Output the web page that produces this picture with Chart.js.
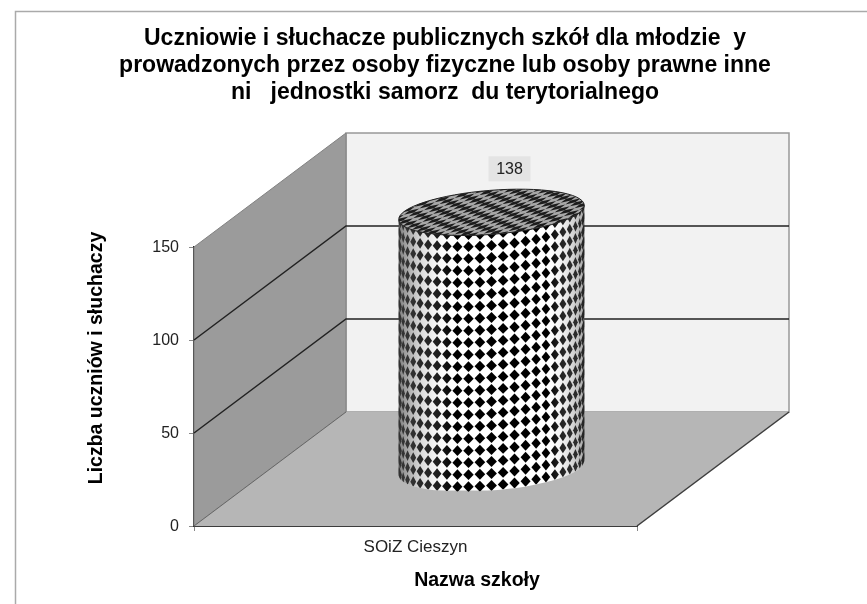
<!DOCTYPE html>
<html>
<head>
<meta charset="utf-8">
<style>
  html, body { margin: 0; padding: 0; background: #fff; }
  #wrap { width: 867px; height: 604px; }
</style>
<script src="https://cdn.jsdelivr.net/npm/chart.js@4"></script>
</head>
<body>
<div id="wrap"><canvas id="schoolChart" width="867" height="604"></canvas></div>
<script>
const titleLines = [
    'Uczniowie i słuchacze publicznych szkół dla młodzie  y',
    'prowadzonych przez osoby fizyczne lub osoby prawne inne',
    'ni   jednostki samorz  du terytorialnego'
];
const categories = ['SOiZ Cieszyn'];
const pupils = [138];
const yTicks = [0, 50, 100, 150];
const xAxisTitle = 'Nazwa szkoły';
const yAxisTitle = 'Liczba uczniów i słuchaczy';

// depth of the fake 3d box
const depthX = 152;
const depthY = -114;

const font = '"Liberation Sans", Arial, sans-serif';

// walls, floor and gridlines, behind the bar
const wallsPlugin = {
    id: 'walls',
    beforeDatasetsDraw(chart) {
        const { ctx, chartArea: a, scales: { y } } = chart;
        const l = a.left, r = a.right;
        const top = y.getPixelForValue(yTicks[yTicks.length - 1]);
        const bot = y.getPixelForValue(0);
        ctx.save();

        // frame of the picture
        ctx.strokeStyle = '#aaaaaa';
        ctx.lineWidth = 1.5;
        ctx.beginPath();
        ctx.moveTo(15.5, 604);
        ctx.lineTo(15.5, 11.5);
        ctx.lineTo(867, 11.5);
        ctx.stroke();

        // back wall
        ctx.fillStyle = '#f2f2f2';
        ctx.fillRect(l + depthX, top + depthY, r - l, bot - top);
        ctx.strokeStyle = '#999999';
        ctx.lineWidth = 1.5;
        ctx.strokeRect(l + depthX, top + depthY, r - l, bot - top);

        // left wall
        ctx.fillStyle = '#9b9b9b';
        ctx.beginPath();
        ctx.moveTo(l, bot);
        ctx.lineTo(l, top);
        ctx.lineTo(l + depthX, top + depthY);
        ctx.lineTo(l + depthX, bot + depthY);
        ctx.closePath();
        ctx.fill();
        ctx.strokeStyle = '#808080';
        ctx.lineWidth = 1;
        ctx.stroke();

        // floor
        ctx.fillStyle = '#b6b6b6';
        ctx.beginPath();
        ctx.moveTo(l, bot);
        ctx.lineTo(r, bot);
        ctx.lineTo(r + depthX, bot + depthY);
        ctx.lineTo(l + depthX, bot + depthY);
        ctx.closePath();
        ctx.fill();

        ctx.strokeStyle = '#666666';
        ctx.lineWidth = 1;
        ctx.beginPath();
        ctx.moveTo(l, bot);
        ctx.lineTo(l + depthX, bot + depthY);
        ctx.stroke();
        ctx.strokeStyle = '#3c3c3c';
        ctx.lineWidth = 1.5;
        ctx.beginPath();
        ctx.moveTo(r, bot);
        ctx.lineTo(r + depthX, bot + depthY);
        ctx.stroke();

        // gridlines run along the left wall and the back wall
        ctx.strokeStyle = '#222222';
        ctx.lineWidth = 1.5;
        yTicks.slice(1, -1).forEach(v => {
            const py = y.getPixelForValue(v);
            ctx.beginPath();
            ctx.moveTo(l, py);
            ctx.lineTo(l + depthX, py + depthY);
            ctx.lineTo(r + depthX, py + depthY);
            ctx.stroke();
        });
        ctx.restore();
    }
};

// draws the bar element as a checkered cylinder
const cylinderPlugin = {
    id: 'cylinder',
    afterDatasetsDraw(chart) {
        const { ctx } = chart;
        chart.getDatasetMeta(0).data.forEach((bar, i) => {
            const cx = bar.x + depthX / 2;
            const topY = bar.y + depthY / 2;
            const baseY = bar.base + depthY / 2;
            const rx = bar.width / 2;
            const ry = 22;
            const tilt = -0.08;

            ctx.save();

            // side
            ctx.beginPath();
            ctx.ellipse(cx, baseY, rx, ry, tilt, 0, Math.PI);
            ctx.lineTo(cx - rx * Math.cos(tilt), topY - rx * Math.sin(tilt));
            ctx.lineTo(cx + rx * Math.cos(tilt), topY + rx * Math.sin(tilt));
            ctx.closePath();
            ctx.save();
            ctx.clip();
            ctx.fillStyle = '#ffffff';
            ctx.fillRect(cx - rx, topY - ry, rx * 2, baseY - topY + ry * 2);

            // diamonds follow the round surface
            ctx.fillStyle = '#000000';
            const stepA = 0.125;
            const stepY = 12;
            const rows = Math.ceil((baseY - topY + ry * 2) / stepY);
            for (let row = 0; row <= rows; row++) {
                for (let k = -13; k <= 13; k++) {
                    const t = k * stepA;
                    const px = cx + rx * Math.sin(t);
                    const lift = ry * Math.cos(t) + rx * Math.sin(t) * Math.sin(tilt);
                    const py = baseY - row * stepY + lift - 5;
                    const w = 5.4 * Math.max(Math.cos(t), 0.3);
                    const h = 5.4;
                    ctx.beginPath();
                    ctx.moveTo(px - w, py);
                    ctx.lineTo(px, py - h);
                    ctx.lineTo(px + w, py);
                    ctx.lineTo(px, py + h);
                    ctx.closePath();
                    ctx.fill();
                }
            }

            // shading at the edges
            const shade = ctx.createLinearGradient(cx - rx, 0, cx + rx, 0);
            shade.addColorStop(0, 'rgba(70,70,70,0.7)');
            shade.addColorStop(0.12, 'rgba(130,130,130,0.3)');
            shade.addColorStop(0.3, 'rgba(255,255,255,0)');
            shade.addColorStop(0.8, 'rgba(255,255,255,0)');
            shade.addColorStop(1, 'rgba(70,70,70,0.5)');
            ctx.fillStyle = shade;
            ctx.fillRect(cx - rx, topY - ry, rx * 2, baseY - topY + ry * 2);
            ctx.restore();

            // top cap
            ctx.beginPath();
            ctx.ellipse(cx, topY, rx, ry, tilt, 0, Math.PI * 2);
            ctx.save();
            ctx.clip();
            ctx.fillStyle = '#a8a8a8';
            ctx.fillRect(cx - rx, topY - ry - 4, rx * 2, ry * 2 + 8);
            ctx.translate(cx, topY);
            ctx.transform(10, -2.2, 5.4, -4.0, 0, 0);
            ctx.fillStyle = '#1c1c1c';
            for (let u = -16; u <= 16; u++) {
                for (let v = -14; v <= 14; v++) {
                    if ((u + v) % 2 === 0) ctx.fillRect(u, v, 1, 1);
                }
            }
            ctx.restore();
            ctx.strokeStyle = '#222222';
            ctx.lineWidth = 1;
            ctx.beginPath();
            ctx.ellipse(cx, topY, rx, ry, tilt, 0, Math.PI * 2);
            ctx.stroke();

            // value label
            const lx = cx + 18;
            const ly = topY - 43;
            ctx.fillStyle = '#e4e4e4';
            ctx.fillRect(lx - 21, ly - 13, 42, 25);
            ctx.fillStyle = '#222222';
            ctx.font = '16px ' + font;
            ctx.textAlign = 'center';
            ctx.textBaseline = 'middle';
            ctx.fillText(String(pupils[i]), lx, ly);
            ctx.restore();
        });
    }
};

// axis titles are off centre in the original, so they are placed by hand
const axisTitlesPlugin = {
    id: 'axisTitles',
    afterDraw(chart) {
        const { ctx } = chart;
        ctx.save();
        ctx.fillStyle = '#000000';
        ctx.font = 'bold 19.5px ' + font;
        ctx.textAlign = 'center';
        ctx.textBaseline = 'middle';
        ctx.fillText(xAxisTitle, 477, 581);
        ctx.translate(97, 358);
        ctx.rotate(-Math.PI / 2);
        ctx.fillText(yAxisTitle, 0, 0);
        ctx.restore();
    }
};

new Chart(document.getElementById('schoolChart').getContext('2d'), {
    type: 'bar',
    data: {
        labels: categories,
        datasets: [{
            label: 'Liczba uczniów i słuchaczy',
            data: pupils,
            backgroundColor: 'rgba(0,0,0,0)',
            borderWidth: 0,
            categoryPercentage: 1,
            barPercentage: 0.42
        }]
    },
    options: {
        responsive: false,
        animation: false,
        layout: { padding: { left: 23, right: 0, top: 0, bottom: 0 } },
        plugins: {
            legend: { display: false },
            tooltip: { enabled: false },
            title: {
                display: true,
                text: titleLines,
                color: '#000000',
                font: { family: font, size: 23, weight: 'bold', lineHeight: 1.174 },
                padding: { top: 25, bottom: 141 }
            }
        },
        scales: {
            x: {
                offset: true,
                grid: { drawOnChartArea: false, offset: true, tickLength: 5, color: '#888888' },
                border: { color: '#3c3c3c', width: 2 },
                ticks: { color: '#222222', font: { family: font, size: 17 }, padding: 6 },
                afterFit(scale) { scale.height = 78; }
            },
            y: {
                min: 0,
                max: 150,
                afterBuildTicks(scale) { scale.ticks = yTicks.map(v => ({ value: v })); },
                grid: { drawOnChartArea: false, tickLength: 5, color: '#888888' },
                border: { color: '#2e2e2e', width: 1.5 },
                ticks: { color: '#222222', font: { family: font, size: 16 }, padding: 10, labelOffset: 1 },
                afterFit(scale) { scale.width = 171; }
            },
            // empty axis, only keeps the room on the right of the box
            right: {
                position: 'right',
                grid: { display: false },
                border: { display: false },
                ticks: { display: false },
                afterFit(scale) { scale.width = 230; }
            }
        }
    },
    plugins: [wallsPlugin, cylinderPlugin, axisTitlesPlugin]
});
</script>
</body>
</html>
